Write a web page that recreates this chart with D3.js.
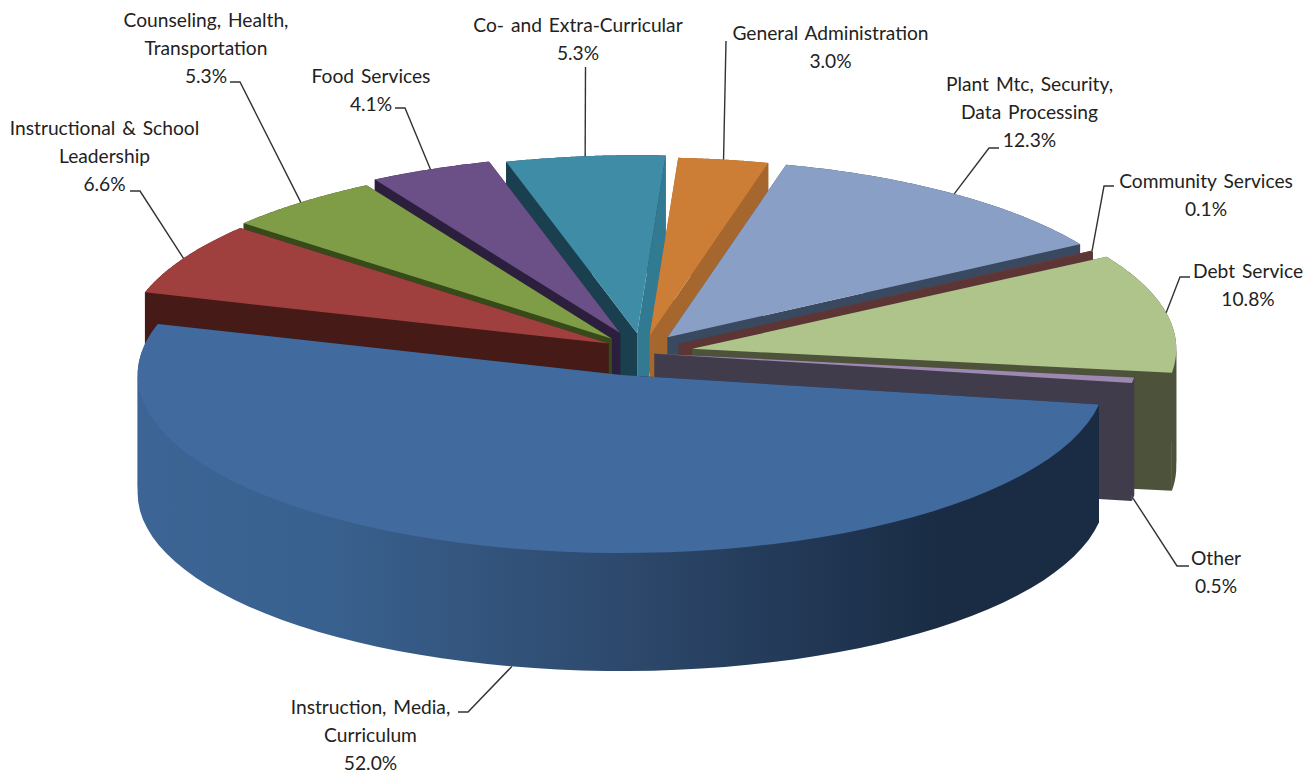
<!DOCTYPE html>
<html>
<head>
<meta charset="utf-8">
<script src="https://cdnjs.cloudflare.com/ajax/libs/d3/7.8.5/d3.min.js"></script>
<style>
  html, body { margin: 0; padding: 0; background: #fff; }
  svg { display: block; }
  text { font-family: Lato, "Noto Sans", sans-serif; font-size: 19.2px; word-spacing: 2px; fill: #222; }
</style>
</head>
<body>
<svg id="chart" width="1315" height="772"></svg>
<script>
// Budget shares, in pie order starting from the large front slice
const categories = ["Instruction, Media, Curriculum", "Instructional & School Leadership",
  "Counseling, Health, Transportation", "Food Services", "Co- and Extra-Curricular",
  "General Administration", "Plant Mtc, Security, Data Processing", "Community Services",
  "Debt Service", "Other"];
const shares = [52.0, 6.6, 5.3, 4.1, 5.3, 3.0, 12.3, 0.1, 10.8, 0.5];

// How far each slice is pulled from the pie centre, in radii, sideways and towards the back
const pullX = [-0.038, -0.065, -0.058, -0.041, -0.006, 0.020, 0.057, 0.080, 0.108, 0.030];
const pullZ = [-0.135, 0.042, 0.069, 0.101, 0.100, 0.087, 0.077, 0.040, 0.012, -0.015];

// Label text broken over lines
const labelLines = [
  ["Instruction, Media,", "Curriculum"],
  ["Instructional & School", "Leadership"],
  ["Counseling, Health,", "Transportation"],
  ["Food Services"],
  ["Co- and Extra-Curricular"],
  ["General Administration"],
  ["Plant Mtc, Security,", "Data Processing"],
  ["Community Services"],
  ["Debt Service"],
  ["Other"]
];

// Slice colours: top face, cut face at the start angle, cut face at the end angle
const topColors   = ["#416b9f", "#a0403e", "#7f9c46", "#6a5086", "#3e8ca6", "#cc7e37", "#8a9fc6", "#6b3a3a", "#aec48b", "#9d88b0"];
const startColors = ["#1a2c44", "#451a17", "#364a1a", "#2c1f3d", "#1a3f4e", "#a5672d", "#39495f", "#5d3535", "#4d533a", "#413c4c"];
const endColors   = ["#1a2c44", "#451a17", "#364a1a", "#2c1f3d", "#327a91", "#a5672d", "#39495f", "#5d3535", "#4d533a", "#413c4c"];

// Painting order, farthest slice first
const paintOrder = [4, 5, 3, 6, 2, 1, 7, 8, 9, 0];

// Label placement: centre x, first-line centre y, and leader elbow points
const labelLayout = [
  { x: 370.5, y: 707, elbow: [[468, 712], [458, 712]] },
  { x: 104.5, y: 128, elbow: [[140, 191], [130, 191]] },
  { x: 206,   y: 20,  elbow: [[240, 82],  [230, 82]] },
  { x: 371,   y: 76,  elbow: [[405, 108], [395, 108]] },
  { x: 578,   y: 25,  elbow: [[585.5, 67]] },
  { x: 830.5, y: 33,  elbow: [[726, 41]] },
  { x: 1029.5, y: 84, elbow: [[989, 148], [999, 148]] },
  { x: 1206,  y: 181, elbow: [[1104, 186], [1114, 186]] },
  { x: 1248,  y: 271, elbow: [[1180, 277], [1190, 277]] },
  { x: 1216,  y: 558, elbow: [[1177, 566], [1189, 566]] }
];

const lineGap = 28.3;
const depth = 118;
const cx = 640, cy = 351, rx = 484, ry = 178;

const x = d3.scaleLinear().domain([-1, 1]).range([cx - rx, cx + rx]);
const y = d3.scaleLinear().domain([-1, 1]).range([cy + ry, cy - ry]);

const startAngle = 99.5 * Math.PI / 180;
const arcs = d3.pie().sort(null).startAngle(startAngle).endAngle(startAngle + 2 * Math.PI)(shares);

const svg = d3.select("#chart");
const line = d3.line();

// Horizontal shading of the large slice's outer wall
const grad = svg.append("defs").append("linearGradient")
  .attr("id", "frontWall").attr("gradientUnits", "userSpaceOnUse")
  .attr("x1", x(-1) - 20).attr("x2", x(1) - 40).attr("y1", 0).attr("y2", 0);
grad.selectAll("stop")
  .data([[0, "#3c6595"], [0.2, "#39618f"], [0.5, "#2e4a6e"], [0.75, "#1f3450"], [0.85, "#1a2c44"], [1, "#1a2c44"]])
  .join("stop").attr("offset", d => d[0]).attr("stop-color", d => d[1]);

// Screen position of a point on a slice, at a given radius, angle and drop below the top face
function project(i, radius, angle, drop = 0) {
  return [x(pullX[i] + radius * Math.sin(angle)), y(pullZ[i] + radius * Math.cos(angle)) + drop];
}

function rimPoints(i, a0, a1, drop) {
  return d3.range(0, 61).map(k => project(i, 1, a0 + (a1 - a0) * k / 60, drop));
}

// Angle ranges of a slice's rim between the left and right extremes of the ellipse,
// so that each wall piece stays a simple polygon
function wallRanges(a) {
  const breaks = [0.5, 1.5, 2.5, 3.5].map(t => t * Math.PI).filter(b => b > a.startAngle && b < a.endAngle);
  return d3.pairs([a.startAngle, ...breaks, a.endAngle]);
}

const slices = svg.selectAll("g.slice").data(paintOrder).join("g").attr("class", "slice");

slices.each(function (i) {
  const g = d3.select(this);
  const a = arcs[i];
  const apexTop = project(i, 0, 0), apexLow = project(i, 0, 0, depth);
  const pieces = wallRanges(a);
  const isFront = ([a0, a1]) => Math.cos((a0 + a1) / 2) < 0;

  // Outer wall pieces; front ones run a little under the top face so no seam shows
  const drawWall = ([a0, a1], lift) => g.append("path")
    .attr("fill", i === 0 ? "url(#frontWall)" : startColors[i])
    .attr("d", line(rimPoints(i, a0, a1, lift).concat(rimPoints(i, a0, a1, depth).reverse())) + "Z");

  pieces.filter(p => !isFront(p)).forEach(p => drawWall(p, 0));

  // Cut faces running from the centre to the rim
  g.append("path").attr("fill", startColors[i])
    .attr("d", line([apexTop, project(i, 1, a.startAngle), project(i, 1, a.startAngle, depth), apexLow]) + "Z");
  g.append("path").attr("fill", endColors[i])
    .attr("d", line([apexTop, project(i, 1, a.endAngle), project(i, 1, a.endAngle, depth), apexLow]) + "Z");

  pieces.filter(isFront).forEach(p => drawWall(p, -2));

  // Top face
  g.append("path").attr("fill", topColors[i])
    .attr("d", line([apexTop].concat(rimPoints(i, a.startAngle, a.endAngle, 0))) + "Z");
});

// Leader lines from the middle of each slice's rim to its label
const leaders = svg.append("g").attr("fill", "none").attr("stroke", "#333").attr("stroke-width", 1.4);
arcs.forEach((a, i) => {
  const mid = (a.startAngle + a.endAngle) / 2;
  const front = Math.cos(mid) < -0.1;
  const anchor = project(i, 1, mid, front ? depth : 0);
  leaders.append("path").attr("d", line([anchor].concat(labelLayout[i].elbow)));
});

// Labels: name lines followed by the percentage
const labels = svg.append("g").attr("text-anchor", "middle");
arcs.forEach((a, i) => {
  const rows = labelLines[i].concat([d3.format(".1f")(shares[i]) + "%"]);
  labels.selectAll(null).data(rows).join("text")
    .attr("x", labelLayout[i].x)
    .attr("y", (d, k) => labelLayout[i].y + k * lineGap)
    .attr("dy", "0.35em")
    .text(d => d);
});
</script>
</body>
</html>
